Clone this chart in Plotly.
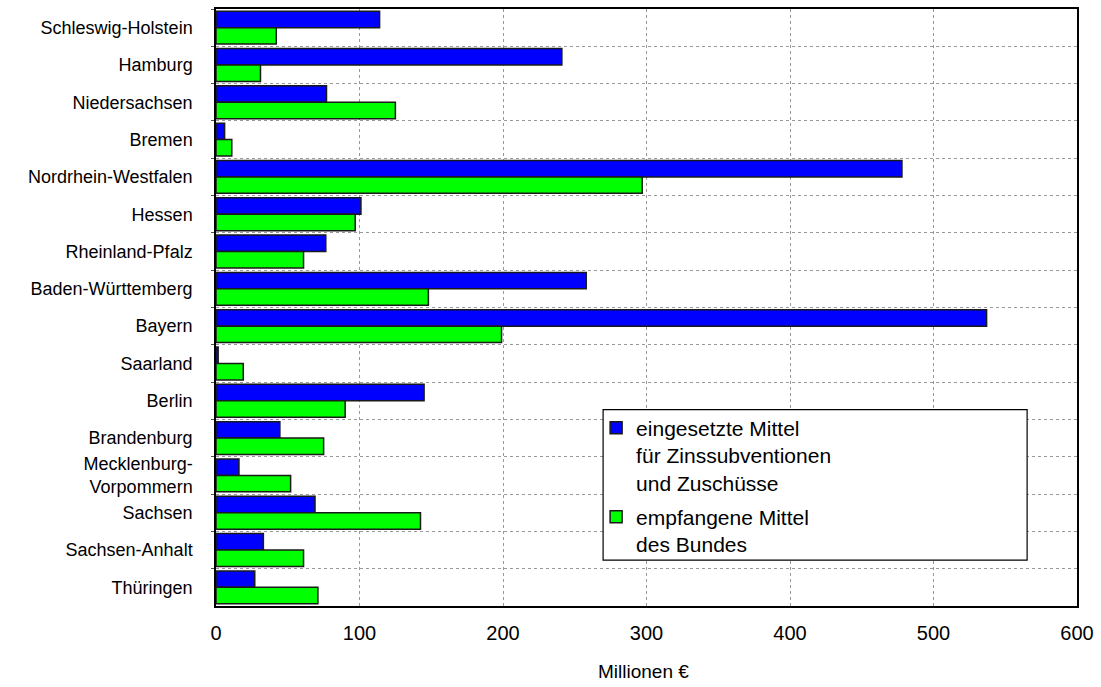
import plotly.graph_objects as go

laender = ["Schleswig-Holstein", "Hamburg", "Niedersachsen", "Bremen",
           "Nordrhein-Westfalen", "Hessen", "Rheinland-Pfalz", "Baden-Württemberg",
           "Bayern", "Saarland", "Berlin", "Brandenburg",
           "Mecklenburg-<br>Vorpommern", "Sachsen", "Sachsen-Anhalt", "Thüringen"]
eingesetzt = [114, 241, 77, 6, 478, 101, 76.5, 258, 537, 1.5, 145, 44.5, 16, 69, 33, 27]
empfangen = [42, 31, 125, 11, 297, 97, 61, 148, 199, 19, 90, 75, 52, 142.5, 61, 71]
x_ticks = [0, 100, 200, 300, 400, 500, 600]

FONT = "Liberation Sans, Arial, sans-serif"

fig = go.Figure()
fig.add_trace(go.Bar(
    y=laender, x=eingesetzt, orientation="h",
    name="eingesetzte Mittel<br>für Zinssubventionen<br>und Zuschüsse",
    legendgroup="a",
    marker=dict(color="#0000FF", line=dict(color="#1a1a1a", width=1.5)),
))
fig.add_trace(go.Bar(
    y=laender, x=empfangen, orientation="h",
    name="empfangene Mittel<br>des Bundes",
    legendgroup="b",
    marker=dict(color="#00FF00", line=dict(color="#1a1a1a", width=1.5)),
))

L, R, T, B = 216, 22, 7, 81
W, H = 1101, 687
ph = H - T - B
pw = W - L - R

fig.update_layout(
    width=W, height=H,
    margin=dict(l=L, r=R, t=T, b=B, pad=0),
    paper_bgcolor="white", plot_bgcolor="white",
    barmode="group", bargap=0.12, bargroupgap=0.0,
    font=dict(family=FONT, size=18, color="black"),
    showlegend=True,
    legend=dict(
        x=(597 - L) / pw, y=(606 - 407) / ph,
        xanchor="left", yanchor="top",
        bgcolor="rgba(0,0,0,0)", borderwidth=0,
        font=dict(family=FONT, size=21, color="black"),
        traceorder="grouped", tracegroupgap=4, itemwidth=30, valign="top",
    ),
    xaxis=dict(
        range=[0, 600], tickvals=x_ticks, ticktext=[str(v) for v in x_ticks],
        showgrid=True, gridcolor="#999999", griddash="dot", gridwidth=1,
        showline=True, linecolor="black", linewidth=1.5, mirror=True,
        zeroline=False, ticks="", ticklabelstandoff=8,
        tickfont=dict(size=20),
    ),
    yaxis=dict(
        type="category", autorange="reversed", tickson="boundaries",
        showgrid=True, gridcolor="#999999", griddash="dot", gridwidth=1,
        showline=True, linecolor="black", linewidth=1.5, mirror=True,
        ticks="outside", ticklen=3, tickcolor="#555",
        ticklabelstandoff=18, tickfont=dict(size=18),
    ),
    shapes=[dict(
        type="rect", xref="paper", yref="paper", layer="above",
        x0=(604 - L) / pw, x1=(1029 - L) / pw,
        y0=(606 - 560) / ph, y1=(606 - 409) / ph,
        fillcolor="white", line=dict(color="black", width=1.2),
    )],
    annotations=[dict(
        text="Millionen €", xref="paper", yref="paper",
        x=(644 - L) / pw, y=(606 - 672) / ph, xanchor="center", yanchor="middle",
        showarrow=False, font=dict(family=FONT, size=19, color="black"),
    )],
)

fig.write_html("out.html", config={"displayModeBar": False},
               post_script="document.body.style.margin='0';")
